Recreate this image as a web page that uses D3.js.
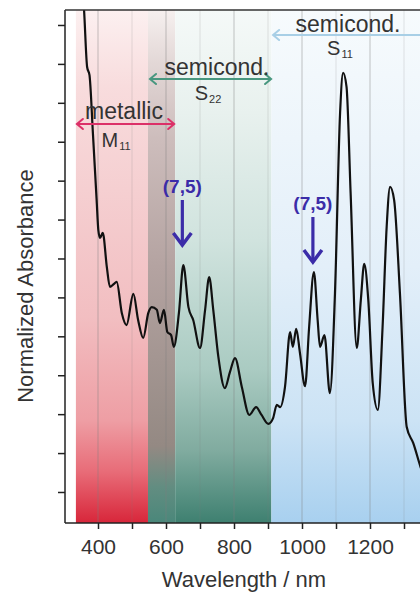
<!DOCTYPE html>
<html>
<head>
<meta charset="utf-8">
<script src="https://cdn.jsdelivr.net/npm/d3@7/dist/d3.min.js"></script>
<style>
  body { margin: 0; background: #fff; }
  svg text { font-family: "Liberation Sans", Arial, sans-serif; }
</style>
</head>
<body>
<div id="chart"></div>
<script>
// spectrum: wavelength (nm) and normalized absorbance
var wavelength = [353, 359, 368, 375, 385, 396, 401, 406, 414, 426, 435, 446, 455, 470, 484, 504, 518, 533,
  548, 558, 573, 582, 594, 604, 615, 623, 638, 651, 666, 680, 700, 715, 727, 739, 754, 773, 788, 803, 823,
  845, 865, 881, 901, 915, 926, 936, 950, 965, 973, 983, 994, 1009, 1021, 1035, 1046, 1053, 1066, 1082,
  1097, 1112, 1121, 1131, 1143, 1161, 1173, 1183, 1195, 1208, 1223, 1237, 1249, 1259, 1271, 1288, 1308,
  1327, 1347, 1376];
var absorbance = [1.415, 1.338, 1.192, 1.171, 1.022, 0.850, 0.773, 0.753, 0.766, 0.678, 0.627, 0.634, 0.640,
  0.560, 0.529, 0.609, 0.542, 0.496, 0.560, 0.575, 0.568, 0.534, 0.568, 0.511, 0.503, 0.473, 0.560, 0.683,
  0.575, 0.542, 0.470, 0.568, 0.652, 0.568, 0.447, 0.367, 0.408, 0.444, 0.370, 0.298, 0.318, 0.298, 0.275,
  0.290, 0.324, 0.318, 0.370, 0.511, 0.473, 0.519, 0.457, 0.372, 0.524, 0.665, 0.542, 0.473, 0.503, 0.354,
  0.611, 1.074, 1.177, 1.141, 0.868, 0.470, 0.593, 0.686, 0.593, 0.380, 0.311, 0.524, 0.781, 0.884, 0.850,
  0.611, 0.267, 0.226, 0.169, 0.092];

// shaded regions (nm)
var bandNames = ["metallic", "overlap", "S22", "S11"];
var bandStart = [335, 547, 627, 910];
var bandEnd = [547, 627, 910, 1450];

// range arrows (nm)
var rangeNames = ["metallic", "S22", "S11"];
var rangeStart = [335, 550, 912];
var rangeEnd = [627, 912, 1460];

// (7,5) markers
var markerNm = [651, 1035];

var xTicksMajor = [400, 600, 800, 1000, 1200];
var xTicksAll = [400, 500, 600, 700, 800, 900, 1000, 1100, 1200, 1300];
var yTicks = [0.1, 0.2, 0.3, 0.4, 0.5, 0.6, 0.7, 0.8, 0.9, 1.0, 1.1, 1.2, 1.3];

var W = 420, H = 592;
var m = {left: 65, top: 10, bottom: 523};

var svg = d3.select("#chart").append("svg")
    .attr("width", W)
    .attr("height", H);

var x = d3.scaleLinear().domain([300, 1400]).range([64, 438]);
var y = d3.scaleLinear().domain([0.0203, 1.3385]).range([m.bottom, m.top]);

var defs = svg.append("defs");
var gradStops = {
  metallic: [[0, "#fcf0f0"], [0.15, "#f8dcdd"], [0.35, "#f5cfd1"], [0.6, "#f2bec1"], [0.8, "#ee9ea4"], [0.9, "#e86c78"], [1, "#d8263a"]],
  overlap: [[0, "#f6f0ef"], [0.1, "#e3d8d7"], [0.25, "#cdbdbc"], [0.5, "#b4a3a1"], [0.85, "#948983"], [0.93, "#628d81"], [1, "#4a877a"]],
  S22: [[0, "#f5f9f8"], [0.2, "#e8f1ee"], [0.45, "#d0e3de"], [0.7, "#aacbc2"], [0.86, "#80ab9f"], [1, "#3e8070"]],
  S11: [[0, "#f7fbfd"], [0.5, "#e3eff9"], [0.8, "#cce3f5"], [1, "#a8d0ef"]]
};
bandNames.forEach(function(n) {
  var g = defs.append("linearGradient").attr("id", "g_" + n)
      .attr("x1", 0).attr("y1", 0).attr("x2", 0).attr("y2", 1);
  gradStops[n].forEach(function(s) {
    g.append("stop").attr("offset", s[0]).attr("stop-color", s[1]);
  });
});
defs.append("clipPath").attr("id", "plotclip")
  .append("rect").attr("x", m.left).attr("y", m.top).attr("width", W - m.left).attr("height", m.bottom - m.top);

var bands = bandNames.map(function(n, i) { return {name: n, a: bandStart[i], b: bandEnd[i]}; });
svg.append("g").selectAll("rect")
    .data(bands)
  .enter().append("rect")
    .attr("x", function(d) { return x(d.a); })
    .attr("width", function(d) { return x(d.b) - x(d.a); })
    .attr("y", m.top)
    .attr("height", m.bottom - m.top)
    .attr("fill", function(d) { return "url(#g_" + d.name + ")"; });

// vertical grid
svg.append("g").selectAll("line")
    .data(xTicksAll)
  .enter().append("line")
    .attr("x1", function(d) { return x(d); })
    .attr("x2", function(d) { return x(d); })
    .attr("y1", m.top)
    .attr("y2", m.bottom)
    .attr("stroke", "#7d7d7d")
    .attr("stroke-opacity", function(d) { return d % 200 == 0 ? 0.45 : 0.2; })
    .attr("stroke-width", 1);

// spectrum
var pts = wavelength.map(function(w, i) { return [w, absorbance[i]]; });
var line = d3.line()
    .x(function(d) { return x(d[0]); })
    .y(function(d) { return y(d[1]); })
    .curve(d3.curveMonotoneX);
svg.append("path")
    .datum(pts)
    .attr("clip-path", "url(#plotclip)")
    .attr("d", line)
    .attr("fill", "none")
    .attr("stroke", "#111")
    .attr("stroke-width", 2.2)
    .attr("stroke-linejoin", "round");

// axes
var xAxis = d3.axisBottom(x).tickValues(xTicksAll).tickSize(6)
    .tickFormat(function(d) { return xTicksMajor.indexOf(d) >= 0 ? d : ""; });
var gx = svg.append("g")
    .attr("transform", "translate(0," + m.bottom + ")")
    .call(xAxis);
gx.select(".domain").attr("d", "M" + m.left + ",0H" + W).attr("stroke", "#222").attr("stroke-width", 1.5);
gx.selectAll(".tick line").attr("stroke", "#222").attr("stroke-width", 1.5);
gx.selectAll("text")
    .attr("font-size", 21)
    .attr("fill", "#333")
    .attr("dy", "1.05em")
    .style("font-family", "'Liberation Sans', Arial, sans-serif");

var yAxis = d3.axisLeft(y).tickValues(yTicks).tickSize(7).tickFormat("");
var gy = svg.append("g")
    .attr("transform", "translate(" + m.left + ",0)")
    .call(yAxis);
gy.select(".domain").attr("d", "M0," + m.bottom + "V" + m.top).attr("stroke", "#222").attr("stroke-width", 1.5);
gy.selectAll(".tick line").attr("stroke", "#222").attr("stroke-width", 1.5);

// top frame
svg.append("line")
    .attr("x1", m.left).attr("x2", W)
    .attr("y1", m.top).attr("y2", m.top)
    .attr("stroke", "#333").attr("stroke-width", 1.5);

svg.append("text")
    .attr("x", 244).attr("y", 587)
    .attr("text-anchor", "middle")
    .attr("font-size", 22)
    .attr("fill", "#333")
    .text("Wavelength / nm");

svg.append("text")
    .attr("transform", "translate(33,286) rotate(-90)")
    .attr("text-anchor", "middle")
    .attr("font-size", 22)
    .attr("fill", "#333")
    .text("Normalized Absorbance");

// range arrows with labels
var rangeColor = {metallic: "#dc3068", S22: "#48977f", S11: "#a8cfe6"};
var rangeY = {metallic: 124, S22: 79, S11: 35};
var rangeLabel = {metallic: ["metallic", "M", "11"], S22: ["semicond.", "S", "22"], S11: ["semicond.", "S", "11"]};
var labelPos = {
  metallic: {tx: 124, ty: 119, mx: 116, my: 147},
  S22: {tx: 217, ty: 75, mx: 208, my: 100},
  S11: {tx: 348, ty: 32, mx: 340, my: 55}
};

rangeNames.forEach(function(n, i) {
  var x1 = x(rangeStart[i]), x2 = x(rangeEnd[i]), yy = rangeY[n], c = rangeColor[n];
  var g = svg.append("g").attr("clip-path", "url(#plotclip)");
  g.append("line").attr("x1", x1 + 1).attr("x2", x2 - 1).attr("y1", yy).attr("y2", yy)
    .attr("stroke", c).attr("stroke-width", 2);
  g.append("path")
    .attr("d", "M" + (x1 + 7) + "," + (yy - 5) + "L" + (x1 + 1) + "," + yy + "L" + (x1 + 7) + "," + (yy + 5) +
               "M" + (x2 - 7) + "," + (yy - 5) + "L" + (x2 - 1) + "," + yy + "L" + (x2 - 7) + "," + (yy + 5))
    .attr("fill", "none").attr("stroke", c).attr("stroke-width", 2).attr("stroke-linecap", "round");

  var p = labelPos[n], lab = rangeLabel[n];
  svg.append("text")
    .attr("x", p.tx).attr("y", p.ty)
    .attr("text-anchor", "middle")
    .attr("font-size", 23)
    .attr("fill", "#333")
    .text(lab[0]);
  var t = svg.append("text")
    .attr("x", p.mx).attr("y", p.my)
    .attr("text-anchor", "middle")
    .attr("font-size", 20)
    .attr("fill", "#333");
  t.append("tspan").text(lab[1]);
  t.append("tspan").attr("font-size", 11).attr("dy", 3).attr("dx", 1).text(lab[2]);
});

// (7,5) markers
var markerLabelY = [193, 210];
var markerTipY = [245, 262];
markerNm.forEach(function(mk, i) {
  var mx = x(mk) - 1;
  svg.append("text")
    .attr("x", mx).attr("y", markerLabelY[i])
    .attr("text-anchor", "middle")
    .attr("font-size", 19)
    .attr("font-weight", "bold")
    .attr("fill", "#3b2ca8")
    .text("(7,5)");
  svg.append("line")
    .attr("x1", mx).attr("x2", mx)
    .attr("y1", markerLabelY[i] + 7).attr("y2", markerTipY[i] - 2)
    .attr("stroke", "#3b2ca8").attr("stroke-width", 3.2);
  svg.append("path")
    .attr("d", "M" + (mx - 9) + "," + (markerTipY[i] - 12) + "L" + mx + "," + markerTipY[i] + "L" + (mx + 9) + "," + (markerTipY[i] - 12))
    .attr("fill", "none").attr("stroke", "#3b2ca8").attr("stroke-width", 3.5)
    .attr("stroke-linejoin", "miter");
});
</script>
</body>
</html>
